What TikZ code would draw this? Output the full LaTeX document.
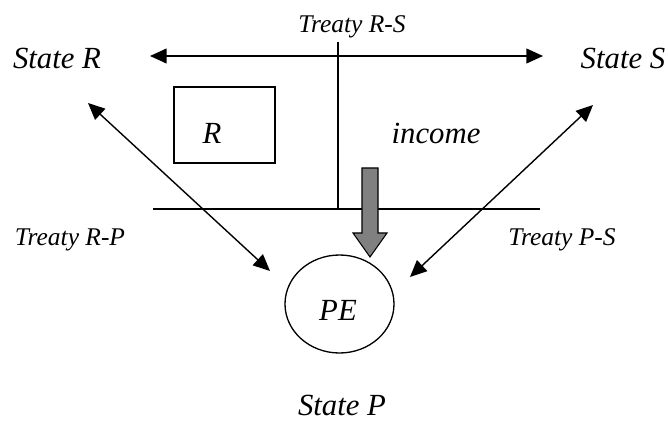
\documentclass[tikz,border=0pt]{standalone}
\usepackage{fontspec}
\setmainfont{Liberation Serif}[ItalicFont={Liberation Serif Italic}]
\usetikzlibrary{arrows.meta,shapes.geometric}

\tikzset{
  state/.style={font=\fontsize{17.5}{20}\selectfont\itshape, inner sep=0pt},
  treaty/.style={font=\fontsize{14.5}{17}\selectfont\itshape, inner sep=0pt},
  link/.style={line width=0.8pt, {Triangle[length=9.5pt,width=8.5pt]}-{Triangle[length=9.5pt,width=8.5pt]}},
}

\begin{document}
\begin{tikzpicture}[x=0.02cm, y=-0.02cm, line width=0.75pt]
  \useasboundingbox (0,0) rectangle (669,432);

  % States
  \node[state] (stR) at (57,58) {State R};
  \node[state] (stS) at (623,58) {State S};
  \node[state] (stP) at (342,405) {State P};

  % Treaty labels
  \node[treaty] (tRS) at (352,27) {Treaty R-S};
  \node[treaty] (tRP) at (70,240) {Treaty R-P};
  \node[treaty] (tPS) at (562,240) {Treaty P-S};

  % Box R, income and PE
  \node[draw, minimum width=101*0.02cm, minimum height=76*0.02cm, inner sep=0pt] (boxR) at (224.5,125) {};
  \node[state] (lblR) at (212,133) {R};
  \node[state] (inc) at (436,133) {income};
  \node[draw, ellipse, minimum width=109*0.02cm, minimum height=98*0.02cm, inner sep=0pt] (pe) at (339.5,304) {};
  \node[state] (lblPE) at (338,310) {PE};

  % Ends of the connectors
  \coordinate (rsL) at (150,56);
  \coordinate (rsR) at (543,56);
  \coordinate (vTop) at (338,42);
  \coordinate (vBot) at (338,209);
  \coordinate (hL) at (153,209);
  \coordinate (hR) at (540,209);
  \coordinate (rpA) at (88,103);
  \coordinate (rpB) at (270,271);
  \coordinate (psA) at (593,105);
  \coordinate (psB) at (410,277);

  % Connectors
  \draw[link] (rsL) -- (rsR);
  \draw (vTop) -- (vBot);
  \draw (hL) -- (hR);
  \draw[link] (rpA) -- (rpB);
  \draw[link] (psA) -- (psB);

  % Income flow
  \draw[fill=gray, line width=0.6pt] (362,168) -- (378,168) -- (378,233) -- (387,233)
    -- (370,257) -- (353,233) -- (362,233) -- cycle;
\end{tikzpicture}
\end{document}
